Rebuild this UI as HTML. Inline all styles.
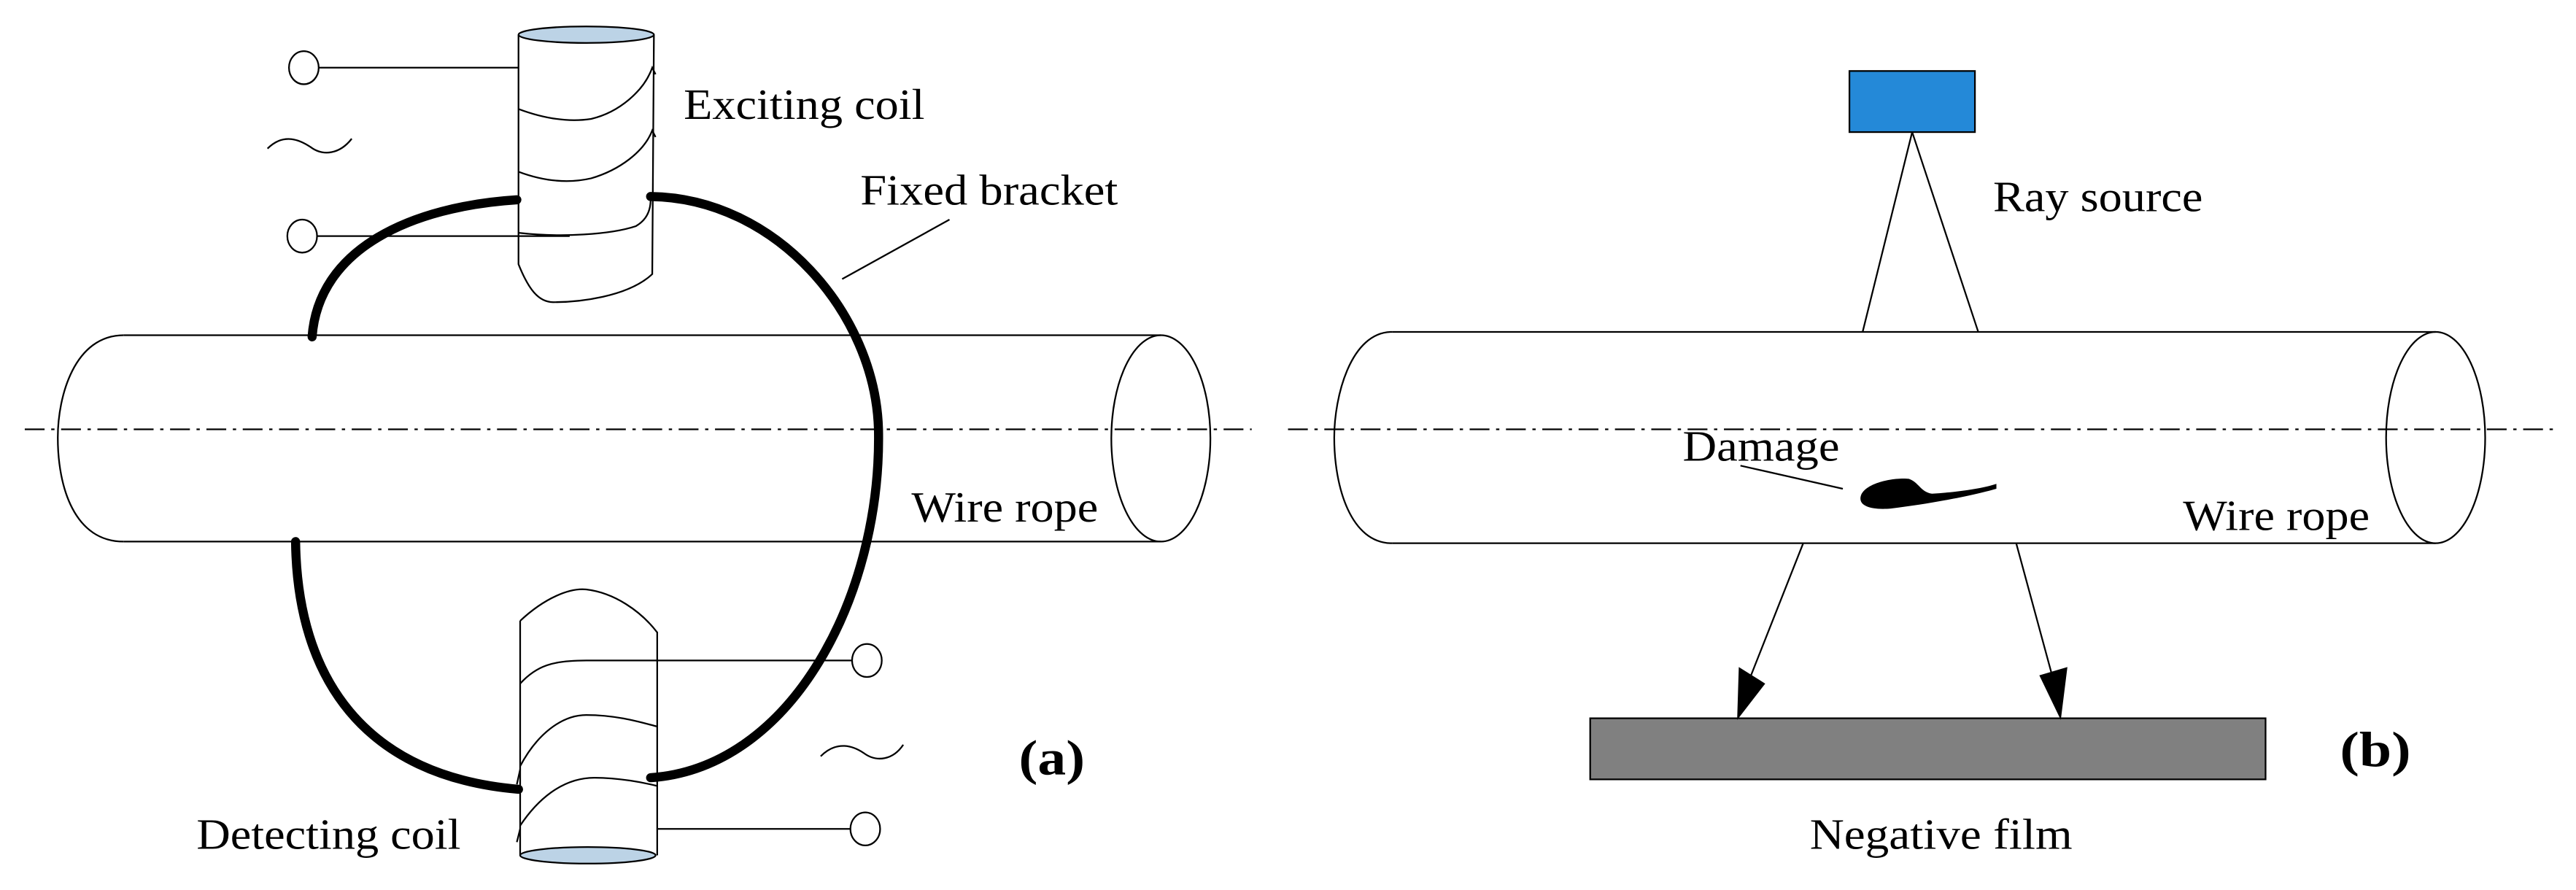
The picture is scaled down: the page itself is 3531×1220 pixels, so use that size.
<!DOCTYPE html>
<html><head><meta charset="utf-8"><style>html,body{margin:0;padding:0;background:#fff}svg{display:block}</style></head>
<body>
<svg width="3531" height="1220" viewBox="0 0 1560 539" preserveAspectRatio="none" xmlns="http://www.w3.org/2000/svg" font-family="Liberation Serif, serif">
<g fill="none" stroke="#000" stroke-width="1">
<path d="M75,203 L703,203 M75,328 L703,328"/>
<path d="M75,203 C45,203 35,240 35,265 C35,295 45,328 75,328"/>
<ellipse cx="703" cy="265.5" rx="30" ry="62.5"/>
<path d="M15,260 L758,260" stroke-dasharray="12,4,2,4"/>
<ellipse cx="355" cy="21" rx="41" ry="5" fill="#bcd3e6"/>
<path d="M314,21 L314,160 C320,175 326,183 335,183 C350,183 380,180 395,166 L396,21"/>
<path d="M314,66 C330,72 345,74 358,72 C375,68 390,55 395,41 L397,45"/>
<path d="M314,104 C330,110 345,111 358,108 C375,103 390,92 395,79 L397,83"/>
<path d="M314,141 C340,144 370,142 385,137 C392,133 394,127 394,121"/>
<path d="M192,41 L314,41 M192,143 L345,143"/>
<ellipse cx="184" cy="41" rx="9" ry="10" fill="#fff"/>
<ellipse cx="183" cy="143" rx="9" ry="10" fill="#fff"/>
<path d="M162,90 C172,80 182,85 188,89 C196,95 206,93 213,84"/>
<path d="M315,376 C330,362 345,356 355,357 C372,359 388,370 398,383 L398,518 M315,376 L315,518"/>
<ellipse cx="356" cy="518" rx="41" ry="5" fill="#bcd3e6"/>
<path d="M315,414 C325,403 335,400 355,400 L517,400"/>
<path d="M315,464 C325,445 340,433 355,433 C375,433 390,438 398,440 M315,466 L313,475"/>
<path d="M315,500 C325,485 340,471 360,471 C375,471 390,474 398,476 M315,502 L313,510"/>
<path d="M398,502 L516,502"/>
<ellipse cx="525" cy="400" rx="9" ry="10" fill="#fff"/>
<ellipse cx="524" cy="502" rx="9" ry="10" fill="#fff"/>
<path d="M497,458 C507,448 517,452 523,456 C531,462 541,460 547,451"/>
<path d="M575,133 L510,169"/>
<rect x="1120" y="43" width="76" height="37" fill="#2489d8"/>
<path d="M1158,80 L1128,201 M1158,80 L1198,201"/>
<path d="M843,201 L1475,201 M843,329 L1475,329"/>
<path d="M843,201 C818,201 808,240 808,265 C808,295 818,329 843,329"/>
<ellipse cx="1475" cy="265" rx="30" ry="64"/>
<path d="M780,260 L1548,260" stroke-dasharray="12,4,2,4"/>
<path d="M1054,282 L1116,296"/>
<path d="M1092,329 L1060,410 M1221,329 L1243,410"/>
<rect x="963" y="435" width="409" height="37" fill="#808080"/>
</g>
<g fill="none" stroke="#000" stroke-width="5.5" stroke-linecap="round">
<path d="M313,121 C250,125 193,150 189,204"/>
<path d="M394,119 C470,120 530,190 532,260 C534,360 480,465 394,471"/>
<path d="M179,328 C180,410 220,470 314,478"/>
</g>
<path d="M1052,436 L1053,404 L1069,414 Z" fill="#000"/>
<path d="M1248,436 L1235,409 L1252,404 Z" fill="#000"/>
<path d="M1127,300 C1130,292 1148,289 1156,290 C1162,292 1163,298 1170,299 C1185,298 1200,296 1209,293 L1209,296 C1195,300 1170,305 1145,308 C1132,309 1125,306 1127,300Z" fill="#000"/>
<g font-size="26" fill="#000">
<text x="414" y="72" textLength="146" lengthAdjust="spacingAndGlyphs">Exciting coil</text>
<text x="521" y="124" textLength="156" lengthAdjust="spacingAndGlyphs">Fixed bracket</text>
<text x="552" y="316" textLength="113" lengthAdjust="spacingAndGlyphs">Wire rope</text>
<text x="119" y="514" textLength="160" lengthAdjust="spacingAndGlyphs">Detecting coil</text>
<text x="617" y="469" font-weight="bold" font-size="30" textLength="40" lengthAdjust="spacingAndGlyphs">(a)</text>
<text x="1207" y="128" textLength="127" lengthAdjust="spacingAndGlyphs">Ray source</text>
<text x="1019" y="279" textLength="95" lengthAdjust="spacingAndGlyphs">Damage</text>
<text x="1322" y="321" textLength="113" lengthAdjust="spacingAndGlyphs">Wire rope</text>
<text x="1417" y="464" font-weight="bold" font-size="30" textLength="43" lengthAdjust="spacingAndGlyphs">(b)</text>
<text x="1096" y="514" textLength="159" lengthAdjust="spacingAndGlyphs">Negative film</text>
</g>
</svg>
</body></html>
